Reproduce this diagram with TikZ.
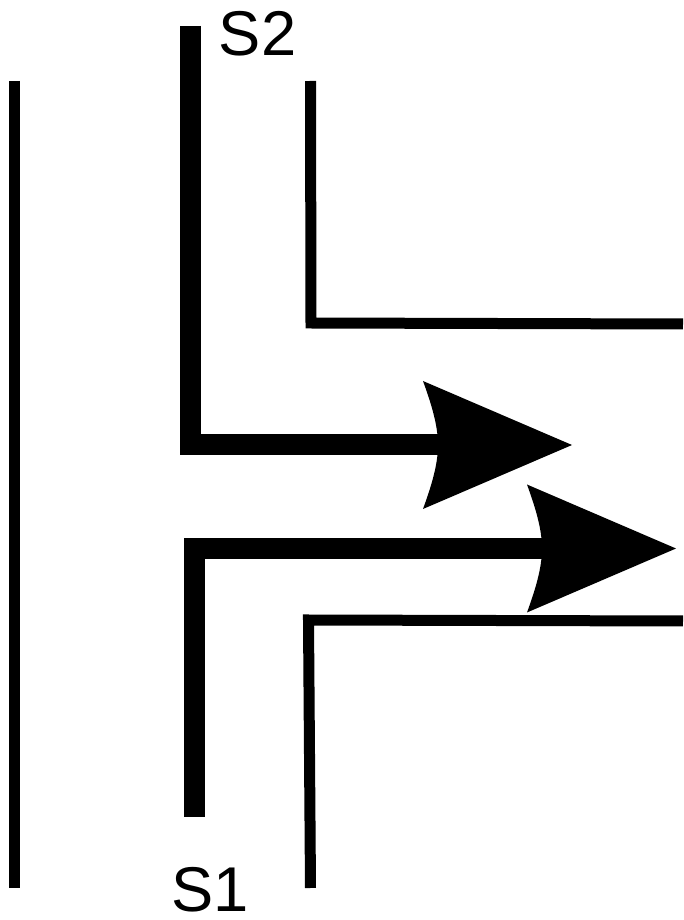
\documentclass[tikz,border=0pt]{standalone}
\usepackage{fontspec}
\setmainfont{Liberation Sans}
\tikzset{
  wall/.style={line width=1.1mm, line join=miter},
  flow/.style={line width=2.1mm, line join=miter},
  label/.style={inner sep=0pt, font=\fontsize{18}{18}\selectfont},
  spearhead/.pic={
    \fill (0,0) -- (-1.49,0.64) .. controls (-1.41,0.42) and (-1.34,0.2) .. (-1.34,0)
      .. controls (-1.34,-0.2) and (-1.41,-0.42) .. (-1.49,-0.64) -- cycle;
  }
}
\begin{document}
\begin{tikzpicture}
  \useasboundingbox (0,0) rectangle (6.83,9.2);
  \draw[wall] (0.145,8.39) -- (0.145,0.32);
  \draw[wall] (3.105,8.39) -- (3.11,5.97) -- (6.83,5.96);
  \draw[wall] (3.105,0.32) -- (3.085,3.00) -- (6.83,2.99);
  \coordinate (tipB) at (5.72,4.75);
  \coordinate (tipA) at (6.76,3.715);
  \draw[flow] (1.903,8.94) |- (4.40,4.75);
  \draw[flow] (1.945,1.03) |- (5.44,3.715);
  \pic at (tipB) {spearhead};
  \pic at (tipA) {spearhead};
  \node[label] (Stwo) at (2.575,8.86) {S2};
  \node[label] (Sone) at (2.10,0.30) {S1};
\end{tikzpicture}
\end{document}
